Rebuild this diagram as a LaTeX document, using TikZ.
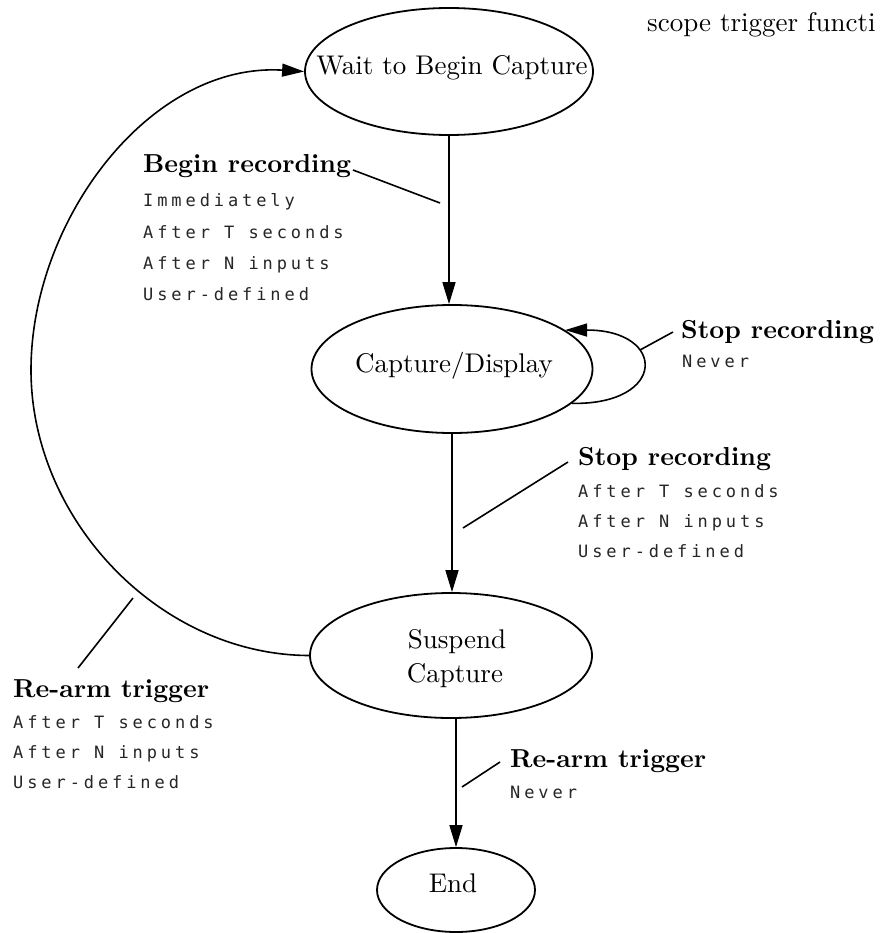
\documentclass[tikz,border=0pt]{standalone}
\usepackage{fontspec}
\setmainfont{lmroman10-regular}[Extension=.otf, BoldFont=lmroman10-bold, ItalicFont=lmroman10-italic]
\newfontfamily\monof[LetterSpace=23]{DejaVu Sans Mono}
\usetikzlibrary{shapes.geometric,arrows.meta}
\tikzset{
 stnode/.style={ellipse, draw, line width=1.8pt, inner sep=0pt},
 stxt/.style={font=\fontsize{27}{32}\selectfont, inner sep=0pt},
 lhead/.style={font=\fontsize{26}{30}\selectfont\bfseries, inner sep=0pt, anchor=base west},
 lmono/.style={font=\fontsize{17}{20}\selectfont\monof, text=black!85, inner sep=0pt, anchor=base west},
 arr/.style={line width=1.6pt, -{Triangle[length=22pt,width=13pt]}},
 lead/.style={line width=1.6pt},
}
\begin{document}
\begin{tikzpicture}[x=1pt,y=-1pt]
\fill[white] (0,0) rectangle (880,933);
\useasboundingbox (0,0) rectangle (880,933);

% states
\node[stnode, minimum width=288pt, minimum height=127pt] (wait) at (449,71.5) {};
\node[stxt, anchor=base] (waitt) at (452,75) {Wait to Begin Capture};
\node[stnode, minimum width=281pt, minimum height=128pt] (cap) at (452,369) {};
\node[stxt, anchor=base] (capt) at (454,372) {Capture/Display};
\node[stnode, minimum width=282pt, minimum height=125pt] (susp) at (451,655.5) {};
\node[stxt, anchor=base] (suspt1) at (457,648) {Suspend};
\node[stxt, anchor=base] (suspt2) at (455,682) {Capture};
\node[stnode, minimum width=158pt, minimum height=84pt] (end) at (456,890) {};
\node[stxt, anchor=base] (endt) at (453,892) {End};

\node[stxt, anchor=base west] (scope) at (647,32) {scope trigger functi};

% transitions
\draw[arr] (wait.south) -- (wait.south |- cap.north);
\draw[arr] (cap.south) -- (cap.south |- susp.north);
\draw[arr] (end.north |- susp.south) -- (end.north);
\draw[arr] (cap.-16) .. controls (667,405) and (667,330) .. (cap.19);
\coordinate (arcl) at (31,370);
\draw[arr] (susp.west) .. controls (160,655) and (31,520) .. (arcl)
           .. controls (31,220) and (150,62) .. (wait.west);

% labels
\node[lhead] (br) at (143,173) {Begin recording};
\node[lmono] (br1) at (143,207) {Immediately};
\node[lmono] (br2) at (143,238) {After T seconds};
\node[lmono] (br3) at (143,269) {After N inputs};
\node[lmono] (br4) at (143,300) {User-defined};
\coordinate (brA) at (353,170);
\coordinate (brB) at (440,203);
\draw[lead] (brA) -- (brB);

\node[lhead] (sa) at (681,338) {Stop recording};
\node[lmono] (sa1) at (682,367) {Never};
\coordinate (saA) at (640,350);
\coordinate (saB) at (673,332);
\draw[lead] (saA) -- (saB);

\node[lhead] (sb) at (578,465) {Stop recording};
\node[lmono] (sb1) at (578,497) {After T seconds};
\node[lmono] (sb2) at (578,527) {After N inputs};
\node[lmono] (sb3) at (578,557) {User-defined};
\coordinate (sbA) at (463,528);
\coordinate (sbB) at (568,462);
\draw[lead] (sbA) -- (sbB);

\node[lhead] (ra) at (13,697) {Re-arm trigger};
\node[lmono] (ra1) at (13,728) {After T seconds};
\node[lmono] (ra2) at (13,758) {After N inputs};
\node[lmono] (ra3) at (13,788) {User-defined};
\coordinate (raA) at (78,668);
\coordinate (raB) at (133,598);
\draw[lead] (raA) -- (raB);

\node[lhead] (rb) at (510,767) {Re-arm trigger};
\node[lmono] (rb1) at (510,798) {Never};
\coordinate (rbA) at (462,787);
\coordinate (rbB) at (500,762);
\draw[lead] (rbA) -- (rbB);
\end{tikzpicture}
\end{document}
